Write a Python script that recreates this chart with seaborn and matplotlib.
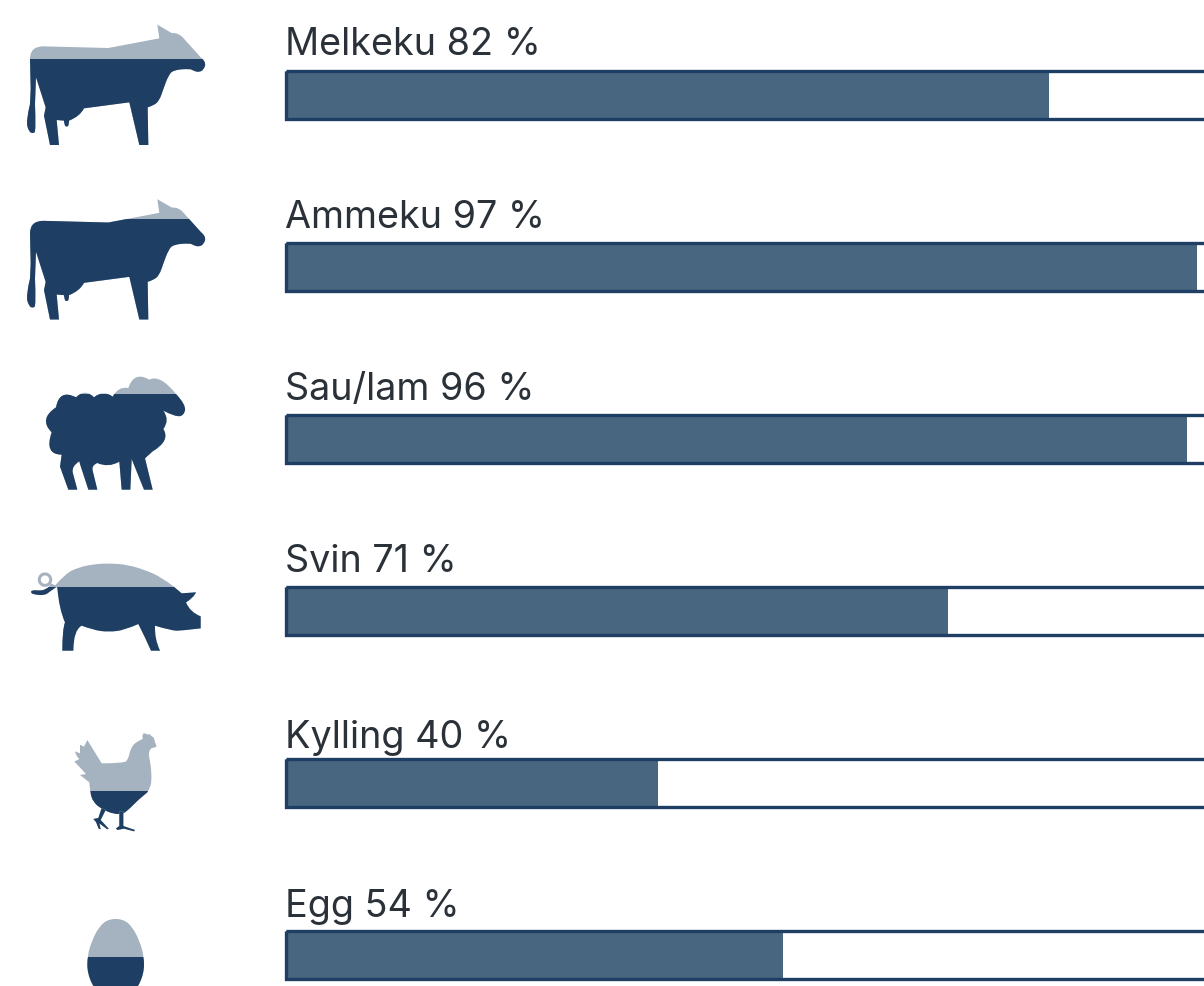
import seaborn as sns
import matplotlib.pyplot as plt
from matplotlib.path import Path
from matplotlib.patches import PathPatch, Rectangle, Wedge

# values
animals = ["Melkeku", "Ammeku", "Sau/lam", "Svin", "Kylling", "Egg"]
pct_labels = [82, 97, 96, 71, 40, 54]
bar_values = [82.05, 97.95, 96.85, 71.15, 39.95, 53.45]
track_values = [110, 110, 110, 110, 110, 110]
label_baselines = [55, 228, 400, 572, 748, 917]

DARK = "#1e3f63"
LIGHT = "#a5b2bf"
FILL = "#48667f"
TEXT = "#2b3138"

W, H = 1204, 987
PX_PER_PCT = 9.3
X0 = 286.0
ROW0 = 96.0
ROW_STEP = 172.0

# silhouettes, in 3x zoomed pixels. third item 0 = sharp corner
cow = [(90, 150, 0), (90, 112), (130, 112, 0), (325, 117, 0), (478, 88, 0), (472, 47, 0), (515, 72, 0), (535, 71), (548, 85, 0),
       (603, 146, 0), (618, 158), (612, 182), (596, 190), (580, 185), (570, 179), (520, 183), (505, 200), (490, 240),
       (478, 275), (460, 290), (443, 295, 0), (445, 408, 0), (418, 408, 0), (388, 280, 0), (252, 298, 0),
       (240, 322), (207, 335, 0), (207, 349), (200, 354), (193, 349), (192, 335, 0), (170, 333, 0), (177, 408, 0),
       (150, 408, 0), (132, 320, 0), (137, 295, 0), (108, 205, 0), (105, 285, 0), (108, 365), (100, 374), (86, 368),
       (78, 335), (90, 285, 0), (92, 240, 0)]
sheep = [(108, 130, 0), (118, 74), (168, 100, 0), (195, 72), (222, 100, 0), (250, 76), (278, 98, 0), (295, 66),
         (325, 72, 0), (342, 20), (388, 47, 0), (420, 30), (468, 90, 0), (498, 122), (492, 155), (465, 158),
         (430, 140, 0), (450, 168), (430, 195, 0), (452, 230), (398, 262, 0), (375, 283, 0),
         (398, 377, 0), (372, 377, 0), (335, 285, 0), (331, 377, 0), (305, 377, 0), (298, 293, 0), (265, 312),
         (232, 297, 0), (214, 304), (218, 320, 0), (232, 377, 0), (205, 377, 0), (180, 300, 0), (178, 292, 0),
         (155, 306), (158, 325, 0), (172, 377, 0), (145, 377, 0), (120, 308, 0), (125, 272, 0), (72, 272),
         (95, 205, 0), (55, 165)]
pig = [(118, 97, 0), (150, 60), (190, 40), (240, 30), (290, 28), (340, 33), (390, 48), (440, 70), (475, 97, 0),
       (500, 118, 0), (543, 115, 0), (535, 132), (513, 145, 0), (525, 175), (557, 187, 0), (557, 223, 0),
       (500, 230), (470, 230), (420, 215, 0), (418, 255), (435, 290, 0), (408, 290, 0), (388, 245), (370, 210, 0),
       (330, 228), (280, 234), (235, 228), (200, 215, 0), (175, 228), (175, 290, 0), (142, 290, 0),
       (142, 225), (150, 205, 0), (132, 165), (127, 100, 0)]
pig_tail = [(108, 88, 0), (127, 97, 0), (105, 112), (90, 124), (60, 122), (47, 117), (50, 108), (75, 110), (90, 107), (100, 100, 0)]
hen = [(82, 48, 0), (125, 118, 0), (192, 118), (205, 105), (212, 72), (230, 52), (248, 45, 0), (246, 30), (255, 27),
       (262, 32), (270, 30), (275, 38), (282, 40), (283, 50), (290, 68, 0), (280, 72), (272, 72), (265, 90), (272, 120),
       (275, 160), (272, 190), (262, 205, 0), (235, 228, 0), (205, 258), (188, 270), (160, 270), (125, 255), (100, 235),
       (90, 205), (88, 175, 0), (60, 153, 0), (78, 150, 0), (60, 130), (43, 113, 0), (58, 105, 0), (47, 95), (45, 82, 0),
       (60, 88, 0), (60, 62, 0), (72, 68, 0)]
hen_leg1 = [(178, 262, 0), (190, 262, 0), (190, 306, 0), (225, 318, 0), (222, 322, 0), (192, 314, 0), (172, 318, 0),
            (168, 313, 0), (178, 306, 0)]
hen_leg2 = [(125, 252, 0), (137, 258, 0), (122, 288, 0), (146, 314, 0), (142, 316, 0), (118, 298, 0), (122, 316, 0),
            (116, 314, 0), (108, 294, 0), (100, 285, 0), (115, 282, 0)]
egg = [(190, 60), (218, 85), (238, 125), (252, 170), (252, 225), (225, 280), (167, 300),
       (109, 280), (82, 225), (82, 170), (96, 125), (116, 85), (144, 60)]


def make_path(points, ox, oy):
    # soft points act as curve controls, the line runs through the edge midpoints
    pts = [(ox + p[0] / 3, oy + p[1] / 3, len(p) == 2) for p in points]
    verts, codes = [], []
    n = len(pts)
    for i in range(n):
        x, y, soft = pts[i]
        if not soft:
            verts.append((x, y))
            codes.append(Path.LINETO)
            continue
        px, py, psoft = pts[i - 1]
        nx, ny, nsoft = pts[(i + 1) % n]
        start = ((x + px) / 2, (y + py) / 2) if psoft else (px, py)
        end = ((x + nx) / 2, (y + ny) / 2) if nsoft else (nx, ny)
        verts += [start, (x, y), end]
        codes += [Path.LINETO, Path.CURVE3, Path.CURVE3]
    codes[0] = Path.MOVETO
    verts.append(verts[0])
    codes.append(Path.CLOSEPOLY)
    return Path(verts, codes)


def two_tone(ax, path, level):
    ax.add_patch(PathPatch(path, fc=LIGHT, ec="none"))
    dark = PathPatch(path, fc=DARK, ec="none")
    ax.add_patch(dark)
    dark.set_clip_path(Rectangle((0, level), W, H - level, transform=ax.transData))


sns.set_theme(style="white")
plt.rcParams["font.family"] = ["Inter", "DejaVu Sans"]

fig = plt.figure(figsize=(W / 100, H / 100), dpi=100, facecolor="white")
ax = fig.add_axes([0, 0, 1, 1])

sns.barplot(x=bar_values, y=animals, color=FILL, saturation=1, width=0.283, linewidth=0, ax=ax)
sns.barplot(x=track_values, y=animals, facecolor="none", edgecolor=DARK, saturation=1, width=0.283,
            linewidth=2.4, ax=ax)

ax.set_xlim(-X0 / PX_PER_PCT, (W - X0) / PX_PER_PCT)
ax.set_ylim((H - ROW0) / ROW_STEP, -ROW0 / ROW_STEP)
ax.axis("off")

for i, (name, pct) in enumerate(zip(animals, pct_labels)):
    ax.text(-0.15, (label_baselines[i] - ROW0) / ROW_STEP, f"{name} {pct} %", fontsize=27.2, color=TEXT,
            ha="left", va="baseline", fontweight="normal")

# icons on top, plain pixel coordinates
ic = fig.add_axes([0, 0, 1, 1], facecolor="none")
ic.set_xlim(0, W)
ic.set_ylim(H, 0)
ic.axis("off")

two_tone(ic, make_path(cow, 0, 10), 59.5)
two_tone(ic, make_path(cow, 0, 184.5), 219.5)
two_tone(ic, make_path(sheep, 20, 365), 395)
two_tone(ic, make_path(pig, 15, 555), 587.5)
two_tone(ic, make_path(pig_tail, 15, 555), 587.5)
ring = Wedge((15 + 90 / 3, 555 + 77 / 3), 7.2, 0, 360, width=3.0)
two_tone(ic, ring.get_path().transformed(ring.get_patch_transform()), 587.5)
two_tone(ic, make_path(hen, 60, 725), 791.7)
two_tone(ic, make_path(hen_leg1, 60, 725), 791.7)
two_tone(ic, make_path(hen_leg2, 60, 725), 791.7)
two_tone(ic, make_path(egg, 60, 900), 957.5)

fig.savefig("out.png", dpi=100)
